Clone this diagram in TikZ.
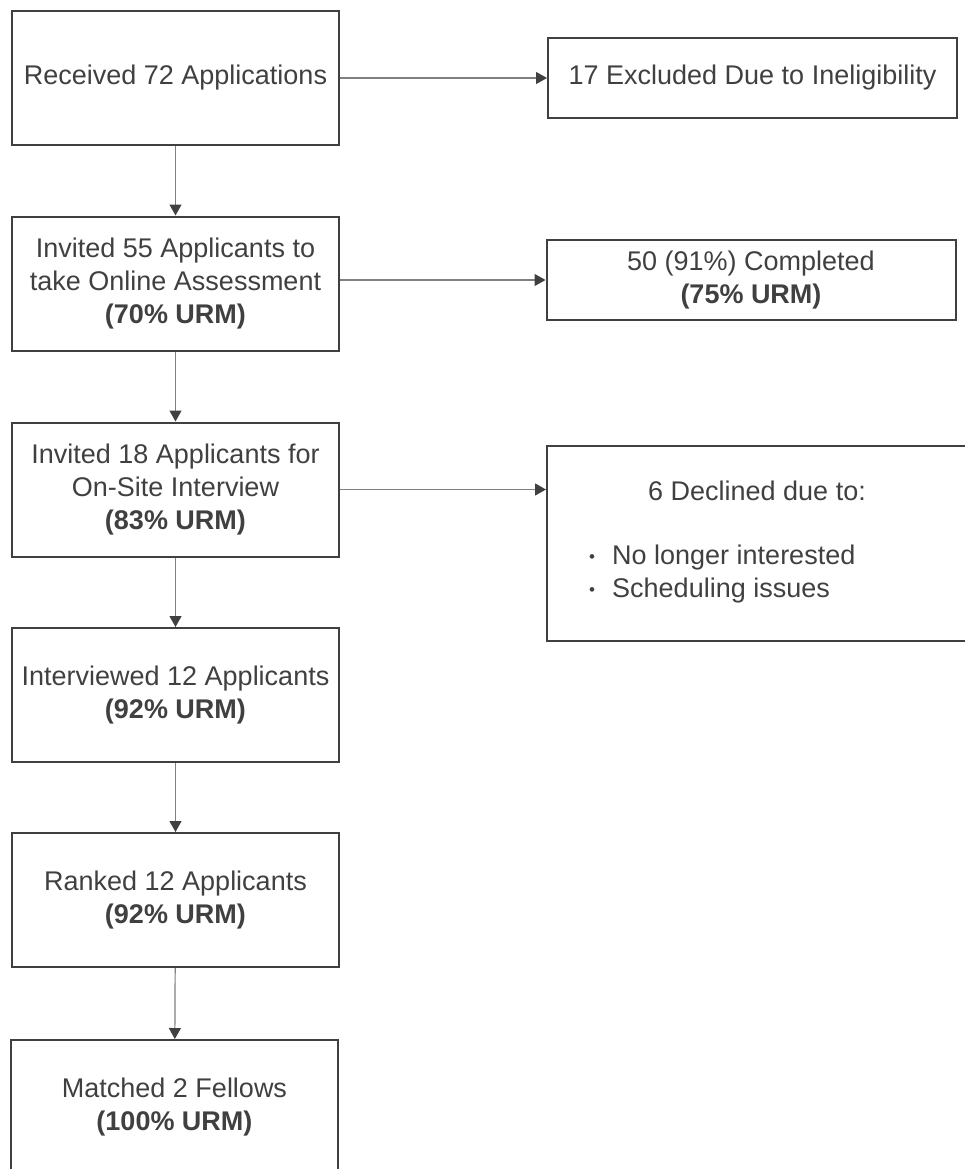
\documentclass[tikz,border=0pt]{standalone}
\usepackage{fontspec}
\setmainfont{Liberation Sans}
\usetikzlibrary{arrows.meta}
\definecolor{inkgray}{HTML}{404040}
\definecolor{wiregray}{HTML}{808080}
\newcommand{\whydot}{\makebox[23pt][l]{\raisebox{1.5pt}{\fontsize{17}{17}\selectfont\textbullet}}}
\tikzset{
  stage/.style={draw=inkgray, line width=2pt, minimum width=327pt, minimum height=134pt, align=center, inner sep=0pt},
  outcome/.style={draw=inkgray, line width=2pt, minimum width=409pt, minimum height=80pt, align=center, inner sep=0pt},
  flow/.style={draw=wiregray, line width=1.2pt, -{Triangle[length=11pt,width=12pt,color=inkgray]}},
}
\begin{document}
\begin{tikzpicture}[x=1pt, y=-1pt, every node/.append style={text=inkgray, font=\fontsize{27}{33}\selectfont}]
    \useasboundingbox (0,0) rectangle (964,1169);
    \node[stage] (recv) at (175.5,78) {Received 72 Applications};
    \node[outcome] (excl) at (752.5,78) {17 Excluded Due to Ineligibility};
    \draw[flow] (recv) -- (excl);
    \node[stage] (assess) at (175.5,283.5) {Invited 55 Applicants to\\take Online Assessment\\\textbf{(70\% URM)}};
    \draw[flow] (recv) -- (assess);
    \node[outcome] (done) at (751,280) {50 (91\%) Completed\\\textbf{(75\% URM)}};
    \draw[flow] (assess.east |- done.west) -- (done);
    \node[stage] (invite) at (175.5,489.5) {Invited 18 Applicants for\\On-Site Interview\\\textbf{(83\% URM)}};
    \draw[flow] (assess) -- (invite);
    \node[outcome, minimum width=420pt, minimum height=195pt] (decl) at (757,543.5) {};
    \node (declhead) at (757,491) {6 Declined due to:};
    \node[anchor=west, align=left, inner sep=0pt] (declwhy) at (589,574) {\whydot No longer interested\\\whydot Scheduling issues};
    \draw[flow] (invite) -- (invite -| decl.west);
    \node[stage] (interv) at (175.5,695) {Interviewed 12 Applicants\\\textbf{(92\% URM)}};
    \draw[flow] (invite) -- (interv);
    \node[stage] (rank) at (175.5,900) {Ranked 12 Applicants\\\textbf{(92\% URM)}};
    \draw[flow] (interv) -- (rank);
    \node[stage] (match) at (174.5,1107) {Matched 2 Fellows\\\textbf{(100\% URM)}};
    \draw[flow] (rank) -- (match);
\end{tikzpicture}
\end{document}
